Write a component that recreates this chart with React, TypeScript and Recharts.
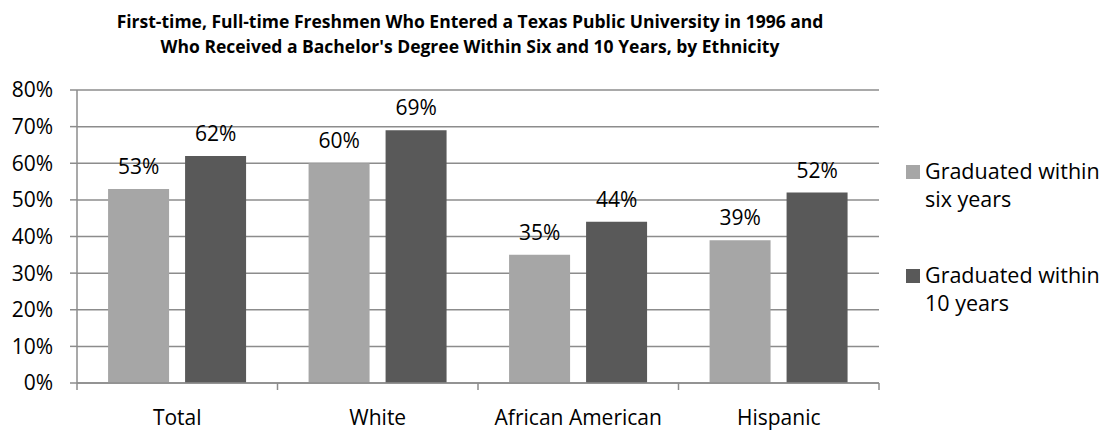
import React from 'react';
import { BarChart, Bar, XAxis, YAxis, CartesianGrid, LabelList } from 'recharts';

// data
const categories = ['Total', 'White', 'African American', 'Hispanic'];
const withinSix = [53, 60, 35, 39];
const withinTen = [62, 69, 44, 52];
const yTicks = [0, 10, 20, 30, 40, 50, 60, 70, 80];
const seriesNames = ['Graduated within six years', 'Graduated within 10 years'];
const legendLines = [
  ['Graduated within', 'six years'],
  ['Graduated within', '10 years'],
];
const titleLines = [
  'First-time, Full-time Freshmen Who Entered a Texas Public University in 1996 and',
  "Who Received a Bachelor's Degree Within Six and 10 Years, by Ethnicity",
];

const W = 1100;
const H = 433;
const FONT = '"Open Sans", sans-serif';
const FS = 21;
const GRID = '#8c8c8c';
const COLORS = ['#a6a6a6', '#595959'];

const MARGIN = { top: 90, right: 221, bottom: 0, left: 0 };
const Y_WIDTH = 77;
const X_HEIGHT = 50;
const PLOT_W = W - MARGIN.left - Y_WIDTH - MARGIN.right;
const BAND = PLOT_W / categories.length;

const data = categories.map((name, i) => ({
  name,
  six: withinSix[i],
  ten: withinTen[i],
}));

const XTick = (props: any) => {
  const { x, y, payload, index } = props;
  const half = BAND / 2;
  return (
    <g>
      <line x1={x - half} x2={x - half} y1={y} y2={y + 7} stroke={GRID} strokeWidth={1.5} />
      {index === categories.length - 1 && (
        <line x1={x + half} x2={x + half} y1={y} y2={y + 7} stroke={GRID} strokeWidth={1.5} />
      )}
      <text x={x} y={y + 35} dy="0.355em" textAnchor="middle" fontSize={FS} fill="#000" fontFamily={FONT}>
        {payload.value}
      </text>
    </g>
  );
};

export default function App() {
  return (
    <div style={{ position: 'absolute', left: 0, top: 0, width: W, height: H, background: '#fff', fontFamily: FONT }}>
      <div
        style={{
          position: 'absolute',
          left: 0,
          top: 9,
          width: 940,
          textAlign: 'center',
          fontWeight: 700,
          fontSize: 17.5,
          lineHeight: '25px',
          color: '#000',
        }}
      >
        {titleLines.map((t) => (
          <div key={t}>{t}</div>
        ))}
      </div>

      <BarChart
        width={W}
        height={H}
        data={data}
        margin={MARGIN}
        barCategoryGap="15.5%"
        barGap={16}
      >
        <CartesianGrid vertical={false} stroke={GRID} strokeWidth={1.5} />
        <XAxis
          dataKey="name"
          height={X_HEIGHT}
          axisLine={{ stroke: GRID, strokeWidth: 1.5 }}
          tickLine={false}
          tickSize={0}
          tickMargin={0}
          interval={0}
          tick={<XTick />}
        />
        <YAxis
          width={Y_WIDTH}
          domain={[0, 80]}
          ticks={yTicks}
          interval={0}
          tickFormatter={(v: number) => `${v}%`}
          axisLine={{ stroke: GRID, strokeWidth: 1.5 }}
          tickLine={{ stroke: GRID, strokeWidth: 1.5 }}
          tickSize={7}
          tickMargin={17}
          tick={{ fontSize: FS, fill: '#000', fontFamily: FONT }}
        />
        <Bar dataKey="six" name={seriesNames[0]} fill={COLORS[0]} isAnimationActive={false}>
          <LabelList
            dataKey="six"
            position="top"
            offset={15}
            formatter={(v: any) => `${v}%`}
            style={{ fontSize: FS, fill: '#000', fontFamily: FONT }}
          />
        </Bar>
        <Bar dataKey="ten" name={seriesNames[1]} fill={COLORS[1]} isAnimationActive={false}>
          <LabelList
            dataKey="ten"
            position="top"
            offset={15}
            formatter={(v: any) => `${v}%`}
            style={{ fontSize: FS, fill: '#000', fontFamily: FONT }}
          />
        </Bar>
      </BarChart>

      <div style={{ position: 'absolute', left: 906, top: 157, fontSize: 21.5, color: '#000' }}>
        {legendLines.map((lines, i) => (
          <div key={i} style={{ position: 'relative', marginBottom: 48 }}>
            <span
              style={{
                position: 'absolute',
                left: 0,
                top: 8,
                width: 14,
                height: 14,
                background: COLORS[i],
              }}
            />
            <div style={{ marginLeft: 19, lineHeight: '28px', whiteSpace: 'nowrap' }}>
              {lines.map((l) => (
                <div key={l}>{l}</div>
              ))}
            </div>
          </div>
        ))}
      </div>
    </div>
  );
}
